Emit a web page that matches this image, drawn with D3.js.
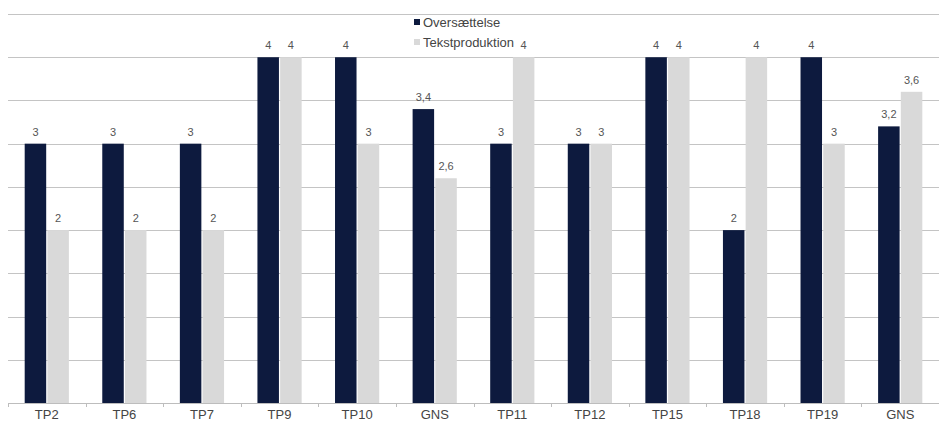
<!DOCTYPE html>
<html>
<head>
<meta charset="utf-8">
<script src="https://cdn.jsdelivr.net/npm/d3@7"></script>
<style>
  html, body { margin: 0; padding: 0; background: #fff; overflow: hidden; }
  svg { display: block; font-family: "Liberation Sans", Arial, sans-serif; }
</style>
</head>
<body>
<svg id="chart" width="939" height="422"></svg>
<script>
// Category labels (two averages share the label "GNS")
const categories = ["TP2", "TP6", "TP7", "TP9", "TP10", "GNS", "TP11", "TP12", "TP15", "TP18", "TP19", "GNS"];
const seriesNames = ["Oversættelse", "Tekstproduktion"];
const oversaettelse = [3, 3, 3, 4, 4, 3.4, 3, 3, 4, 2, 4, 3.2];
const tekstproduktion = [2, 2, 2, 4, 3, 2.6, 4, 3, 4, 4, 3, 3.6];
const gridValues = [0.5, 1, 1.5, 2, 2.5, 3, 3.5, 4, 4.5];

const colors = ["#0d1a3e", "#d9d9d9"];
const seriesValues = [oversaettelse, tekstproduktion];

const svg = d3.select("#chart");
const plotLeft = 8, plotRight = 939, plotTop = 14, plotBottom = 403;

const x = d3.scaleBand()
  .domain(categories.map((c, i) => i))
  .range([plotLeft, plotRight])
  .paddingInner(0)
  .paddingOuter(0);

const y = d3.scaleLinear().domain([0, 4.5]).range([plotBottom, plotTop]);

// Horizontal gridlines
svg.append("g")
  .selectAll("line")
  .data(gridValues)
  .join("line")
  .attr("x1", plotLeft)
  .attr("x2", plotRight)
  .attr("y1", d => Math.round(y(d)) + 0.5)
  .attr("y2", d => Math.round(y(d)) + 0.5)
  .attr("stroke", "#c4c4c4")
  .attr("stroke-width", 1);

// Bars
const barW = 21.5, gap = 1.2;
const groups = svg.append("g")
  .selectAll("g")
  .data(categories.map((c, i) => i))
  .join("g")
  .attr("transform", i => `translate(${x(i) + x.bandwidth() / 2},0)`);

seriesValues.forEach((vals, s) => {
  const off = s === 0 ? -barW - gap / 2 : gap / 2;
  groups.append("rect")
    .attr("x", off)
    .attr("width", barW)
    .attr("y", i => y(vals[i]))
    .attr("height", i => y(0) - y(vals[i]))
    .attr("fill", colors[s]);
  groups.append("text")
    .attr("x", off + barW / 2)
    .attr("y", i => y(vals[i]) - 8)
    .attr("text-anchor", "middle")
    .attr("font-size", 11)
    .attr("fill", "#555")
    .text(i => String(vals[i]).replace(".", ","));
});

// Category axis
const axis = d3.axisBottom(x)
  .tickSize(0)
  .tickFormat(i => categories[i]);
const ax = svg.append("g").attr("transform", `translate(0,${plotBottom})`).call(axis);
ax.select(".domain").attr("stroke", "#bdbdbd").attr("d", `M${plotLeft},0.5H${plotRight}`);
ax.selectAll("text")
  .attr("font-size", 13)
  .attr("fill", "#444")
  .attr("dy", "0.75em")
  .attr("y", 6)
  .attr("font-family", "Liberation Sans, Arial, sans-serif");

// Boundary tick marks between categories
svg.append("g")
  .selectAll("line")
  .data(categories.map((c, i) => i))
  .join("line")
  .attr("x1", i => Math.round(x(i)) + 0.5)
  .attr("x2", i => Math.round(x(i)) + 0.5)
  .attr("y1", plotBottom)
  .attr("y2", plotBottom + 4)
  .attr("stroke", "#bdbdbd");

// Legend
const legend = svg.append("g").attr("transform", "translate(414,16)");
seriesNames.forEach((name, s) => {
  const g = legend.append("g").attr("transform", `translate(0,${s * 20})`);
  g.append("rect").attr("x", 0).attr("y", 3).attr("width", 6).attr("height", 6).attr("fill", colors[s]);
  g.append("text").attr("x", 9).attr("y", 6).attr("dy", "0.35em")
    .attr("font-size", 13).attr("fill", "#444").text(name);
});
</script>
</body>
</html>
